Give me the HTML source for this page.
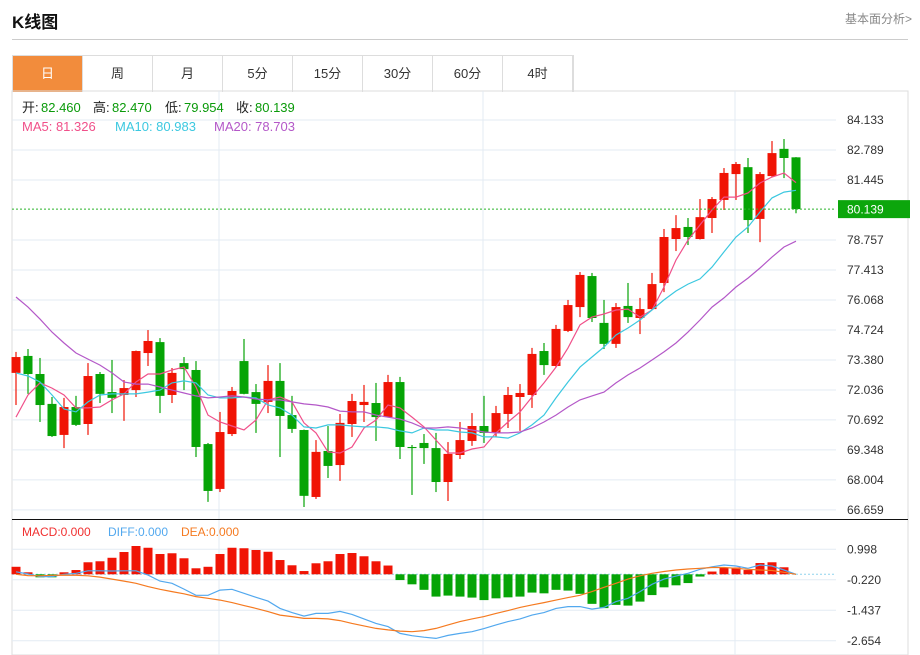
<!DOCTYPE html>
<html><head><meta charset="utf-8">
<style>
body{margin:0;background:#fff;font-family:"Liberation Sans","Noto Sans CJK SC",sans-serif;}
#wrap{position:relative;width:920px;height:655px;overflow:hidden;}
.title{position:absolute;left:12px;top:8px;font-size:17px;font-weight:bold;color:#111;}
.more{position:absolute;left:845px;top:10px;font-size:12px;color:#888;}
.hr{position:absolute;left:12px;top:39px;width:896px;height:1px;background:#ccc;}
.tabs{position:absolute;left:12px;top:55px;height:36px;display:flex;border:1px solid #ddd;border-bottom:none;}
.tab{width:69px;height:36px;line-height:36px;text-align:center;font-size:13px;color:#333;border-right:1px solid #ddd;}
.tab.on{background:#f28c3c;color:#fff;}
svg{position:absolute;left:0;top:0;}
</style></head><body>
<div id="wrap">
<div class="title">K线图</div>
<div class="more">基本面分析&gt;</div>
<div class="hr"></div>
<div class="tabs">
<div class="tab on">日</div>
<div class="tab">周</div>
<div class="tab">月</div>
<div class="tab">5分</div>
<div class="tab">15分</div>
<div class="tab">30分</div>
<div class="tab">60分</div>
<div class="tab">4时</div>
</div>
<svg id="chart" width="920" height="655"></svg>
</div>
<script>
const openV=[72.80,73.56,72.75,71.41,70.02,71.27,70.51,72.75,71.94,71.81,72.03,73.69,74.18,71.81,73.24,72.93,69.61,67.60,70.06,73.33,71.94,71.50,72.44,70.91,70.24,67.24,69.30,68.67,70.51,71.36,71.45,70.82,72.39,69.48,69.66,69.43,67.91,69.12,69.75,70.42,70.11,70.96,71.72,71.81,73.78,73.11,74.68,75.75,77.14,75.04,74.10,75.80,75.26,75.66,76.83,78.80,79.34,78.80,79.74,80.55,81.71,82.02,79.70,81.62,82.84,82.460];
const highV=[73.74,73.87,73.47,71.72,71.68,71.77,73.24,72.84,73.38,72.48,73.80,74.72,74.36,73.02,73.51,73.33,69.66,71.05,72.17,74.32,72.30,73.15,73.24,71.77,70.26,69.79,70.42,70.96,71.86,72.26,72.35,72.71,72.62,69.57,70.06,70.11,69.70,70.60,71.00,71.77,71.32,72.17,72.30,73.92,74.14,74.95,76.07,77.32,77.28,76.07,75.93,76.83,76.16,77.28,79.25,79.87,79.74,80.59,80.68,81.98,82.25,82.43,81.80,83.19,83.28,82.470];
const lowV=[71.36,71.86,70.60,69.93,69.43,70.42,70.02,71.45,71.00,70.65,71.72,73.11,71.00,71.45,72.03,69.03,67.02,67.46,69.97,71.84,70.11,71.00,69.03,70.11,66.79,67.15,68.09,67.96,69.93,70.60,69.75,70.80,68.94,67.33,68.72,67.46,67.06,68.94,69.53,69.66,69.93,70.33,70.20,71.23,72.71,73.06,74.63,75.30,75.08,73.87,73.92,75.04,74.54,75.64,76.42,78.26,78.53,78.78,79.07,80.10,80.55,79.07,78.66,81.58,81.53,79.954];
const closeV=[73.51,72.75,71.36,69.97,71.27,70.47,72.66,71.86,71.68,72.12,73.78,74.23,71.77,72.80,72.97,69.48,67.51,70.15,71.99,71.86,71.41,72.44,70.87,70.29,67.29,69.26,68.63,70.56,71.54,71.50,70.82,72.39,69.48,69.43,69.43,67.91,69.17,69.79,70.42,70.11,71.00,71.81,71.90,73.65,73.15,74.77,75.84,77.19,75.26,74.10,75.75,75.30,75.66,76.78,78.89,79.29,78.89,79.78,80.59,81.76,82.16,79.65,81.71,82.65,82.43,80.139];
const ma5=[70.82,71.81,72.35,72.12,71.81,71.23,71.23,71.27,71.59,71.86,72.39,72.75,72.75,72.93,73.06,72.17,70.91,70.60,70.42,70.24,70.69,71.59,71.72,71.50,70.56,70.11,69.26,69.21,69.48,70.33,70.69,71.36,71.23,70.82,70.38,69.79,69.21,69.21,69.39,69.48,70.11,70.60,71.05,71.72,72.35,73.06,73.92,74.95,75.30,75.44,75.62,75.66,75.30,75.62,76.65,77.86,78.75,79.43,80.10,80.68,80.68,80.86,81.31,81.58,81.76,81.326];
const ma10=[72.80,72.66,72.39,71.81,71.18,71.05,71.50,71.81,71.86,71.86,71.86,71.94,72.03,72.35,72.44,72.35,71.81,71.68,71.68,71.72,71.68,71.36,71.23,70.91,70.38,70.33,70.47,70.47,70.42,70.38,70.38,70.33,70.20,70.11,70.33,70.24,70.24,70.15,70.11,69.93,69.93,69.88,70.11,70.47,70.91,71.68,72.39,73.06,73.51,73.96,74.50,74.81,75.17,75.62,76.07,76.47,76.78,77.01,77.54,78.22,78.89,79.34,80.01,80.64,80.90,80.983];
const ma20=[76.20,75.75,75.21,74.63,74.14,73.69,73.42,73.15,72.80,72.39,72.30,72.30,72.17,72.03,71.90,71.77,71.68,71.72,71.77,71.72,71.63,71.59,71.59,71.50,71.41,71.36,71.27,71.09,71.05,71.05,70.91,70.82,70.73,70.56,70.33,70.33,70.38,70.33,70.24,70.15,70.11,70.11,70.15,70.33,70.60,70.91,71.27,71.59,71.77,71.94,72.35,72.71,73.02,73.38,73.74,74.14,74.63,75.17,75.75,76.16,76.65,77.05,77.50,77.99,78.44,78.703];
const macdV=[0.30,0.08,-0.12,-0.12,0.08,0.17,0.48,0.52,0.66,0.89,1.13,1.06,0.81,0.84,0.64,0.24,0.30,0.81,1.06,1.04,0.97,0.90,0.57,0.36,0.13,0.44,0.52,0.81,0.85,0.72,0.52,0.35,-0.23,-0.40,-0.62,-0.89,-0.85,-0.89,-0.93,-1.03,-0.96,-0.92,-0.89,-0.73,-0.76,-0.62,-0.65,-0.78,-1.18,-1.35,-1.22,-1.25,-1.09,-0.83,-0.52,-0.44,-0.35,-0.09,0.11,0.27,0.27,0.17,0.45,0.48,0.28,0.00];
const diffV=[0.10,0.01,-0.09,-0.09,0,0.04,0.14,0.14,0.13,0.14,0.14,-0.03,-0.27,-0.36,-0.59,-0.84,-0.84,-0.63,-0.60,-0.76,-0.92,-1.07,-1.36,-1.53,-1.67,-1.56,-1.56,-1.48,-1.60,-1.78,-1.96,-2.09,-2.36,-2.45,-2.51,-2.56,-2.44,-2.36,-2.29,-2.17,-2.02,-1.89,-1.78,-1.63,-1.53,-1.36,-1.29,-1.29,-1.39,-1.32,-1.09,-0.96,-0.69,-0.40,-0.19,-0.07,0.04,0.20,0.30,0.37,0.33,0.24,0.37,0.33,0.17,0.00];
const deaV=[0,-0.05,-0.06,-0.04,-0.03,-0.04,-0.06,-0.11,-0.19,-0.27,-0.36,-0.49,-0.60,-0.69,-0.78,-0.89,-0.96,-1.03,-1.13,-1.25,-1.36,-1.49,-1.63,-1.69,-1.76,-1.76,-1.78,-1.85,-1.96,-2.06,-2.16,-2.22,-2.27,-2.29,-2.25,-2.16,-2.02,-1.89,-1.78,-1.69,-1.56,-1.45,-1.32,-1.22,-1.13,-1.03,-0.93,-0.84,-0.69,-0.52,-0.36,-0.19,-0.06,0.04,0.11,0.17,0.21,0.24,0.27,0.27,0.24,0.20,0.17,0.15,0.08,0.00];
const priceTicks=["84.133","82.789","81.445","80.139","78.757","77.413","76.068","74.724","73.380","72.036","70.692","69.348","68.004","66.659"];
const macdTicks=["0.998","-0.220","-1.437","-2.654"];
const lastPrice=80.139;

const NS="http://www.w3.org/2000/svg";
const svg=document.getElementById('chart');
const RED="#f01405",GREEN="#06a406";
function X(i){return 16+12*i;}
function Y(p){return 120+(84.133-p)/1.3444*30;}
function MY(v){return 574.3-v/0.03993;}
function el(tag,attrs,parent){const e=document.createElementNS(NS,tag);for(const k in attrs)e.setAttribute(k,attrs[k]);(parent||svg).appendChild(e);return e;}

// frame
let g;
g=el('g',{});
el('rect',{x:12,y:91,width:896,height:564,fill:'none',stroke:'#ddd'},g);
el('line',{x1:219,y1:91,x2:219,y2:655,stroke:'#e3ebf3'},g);
el('line',{x1:483,y1:91,x2:483,y2:655,stroke:'#e3ebf3'},g);
el('line',{x1:735,y1:91,x2:735,y2:655,stroke:'#e3ebf3'},g);
el('line',{x1:12,y1:519.5,x2:908,y2:519.5,stroke:'#111'},g);

// price grid + ticks
const pg=el('g',{});
priceTicks.forEach(t=>{const y=Y(parseFloat(t));
 if(t!=="80.139"){el('line',{x1:12,y1:y,x2:836,y2:y,stroke:'#e3ebf3'},pg);
 const tx=el('text',{x:847,y:y+4,'font-size':12,fill:'#333'},pg);tx.textContent=t;}
});
// macd grid
const mg=el('g',{});
macdTicks.forEach(t=>{const y=MY(parseFloat(t));el('line',{x1:12,y1:y,x2:836,y2:y,stroke:'#e3ebf3'},mg);
 const tx=el('text',{x:847,y:y+4,'font-size':12,fill:'#333'},mg);tx.textContent=t;});
el('line',{x1:12,y1:MY(0),x2:836,y2:MY(0),stroke:'#8fd3ee','stroke-dasharray':'2,2'},mg);

// candles
const cg=el('g',{});
for(let i=0;i<openV.length;i++){
 const up=closeV[i]>=openV[i];const c=up?RED:GREEN;const x=X(i);
 const k=el('g',{},cg);
 
 
 el('line',{x1:x,y1:Y(highV[i]),x2:x,y2:Y(lowV[i]),stroke:c,'stroke-width':1.2},k);
 const top=Y(Math.max(openV[i],closeV[i])),bot=Y(Math.min(openV[i],closeV[i]));
 el('rect',{x:x-4.5,y:top,width:9,height:Math.max(1,bot-top),fill:c},k);
}
function line(arr,fn,color,name,w){const pts=arr.map((v,i)=>X(i)+','+fn(v).toFixed(1)).join(' ');
 const p=el('polyline',{points:pts,fill:'none',stroke:color,'stroke-width':w||1.2});
 
 }
line(ma5,Y,'#f0508a','ma5-line');
line(ma10,Y,'#3cc8e0','ma10-line');
line(ma20,Y,'#b458c8','ma20-line');

// last price
const lp=el('g',{});
el('line',{x1:12,y1:Y(lastPrice),x2:836,y2:Y(lastPrice),stroke:'#2bb32b','stroke-dasharray':'2,2'},lp);
el('rect',{x:838,y:Y(lastPrice)-9,width:72,height:18,fill:'#0ca60c'},lp);
const lt=el('text',{x:847,y:Y(lastPrice)+4.5,'font-size':12,fill:'#fff'},lp);lt.textContent=lastPrice.toFixed(3);

// macd bars
const hb=el('g',{});
macdV.forEach((v,i)=>{if(v===0)return;const y0=MY(0),y1=MY(v);
 const r=el('rect',{x:X(i)-4.5,y:Math.min(y0,y1),width:9,height:Math.abs(y1-y0),fill:v>0?RED:GREEN},hb);
 
 });
line(diffV,MY,'#52a8ee','diff-line');
line(deaV,MY,'#f57a20','dea-line');

// info texts
function txt(x,y,s,color,name,size){const t=el('text',{x:x,y:y,'font-size':size||13,fill:color});t.textContent=s;
 
 return t;}
txt(22,112,'开:','#222','open-label');txt(41,112,'82.460','#0a9a0a','open-value');
txt(93,112,'高:','#222','high-label');txt(112,112,'82.470','#0a9a0a','high-value');
txt(165,112,'低:','#222','low-label');txt(184,112,'79.954','#0a9a0a','low-value');
txt(236,112,'收:','#222','close-label');txt(255,112,'80.139','#0a9a0a','close-value');
txt(22,131,'MA5: 81.326','#f0508a','ma5-legend');
txt(115,131,'MA10: 80.983','#3cc8e0','ma10-legend');
txt(214,131,'MA20: 78.703','#b458c8','ma20-legend');
txt(22,536,'MACD:0.000','#f03030','macd-legend',12);
txt(108,536,'DIFF:0.000','#52a8ee','diff-legend',12);
txt(181,536,'DEA:0.000','#f57a20','dea-legend',12);
</script>
</body></html>
